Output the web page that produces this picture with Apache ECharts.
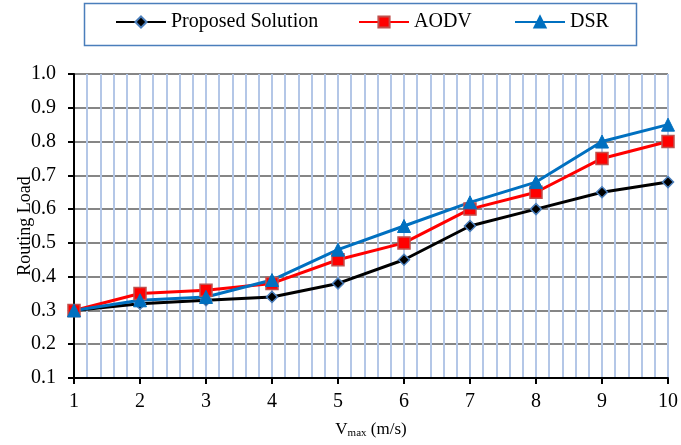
<!DOCTYPE html>
<html>
<head>
<meta charset="utf-8">
<script src="https://cdn.jsdelivr.net/npm/echarts@6/dist/echarts.min.js"></script>
<style>html,body{margin:0;padding:0;background:#fff}#c{width:681px;height:445px}</style>
</head>
<body>
<div id="c"></div>
<script>
const xValues = [1, 2, 3, 4, 5, 6, 7, 8, 9, 10];
const proposed = [0.30, 0.32, 0.33, 0.34, 0.38, 0.45, 0.55, 0.60, 0.65, 0.68];
const aodv = [0.30, 0.35, 0.36, 0.38, 0.45, 0.50, 0.60, 0.65, 0.75, 0.80];
const dsr = [0.30, 0.33, 0.34, 0.39, 0.48, 0.55, 0.62, 0.68, 0.80, 0.85];
const seriesNames = ['Proposed Solution', 'AODV', 'DSR'];

const font = 'Liberation Serif';
const pairs = arr => xValues.map((x, i) => [x, arr[i]]);
const chart = echarts.init(document.getElementById('c'), null, {renderer: 'canvas'});

function legendAt(name, left) {
  return {
    data: [name], left: left, top: 12, itemWidth: 50, itemHeight: 14, itemGap: 0, padding: 0,
    textStyle: {fontFamily: font, fontSize: 20, color: '#000'}
  };
}

chart.setOption({
  animation: false,
  backgroundColor: '#fff',
  graphic: [{
    type: 'rect', shape: {x: 84.5, y: 3.5, width: 552, height: 42},
    style: {fill: 'none', stroke: '#4a7ebb', lineWidth: 1.5}, z: 0
  }],
  legend: [legendAt(seriesNames[0], 115), legendAt(seriesNames[1], 358), legendAt(seriesNames[2], 514)],
  grid: {left: 74, right: 13, top: 74, bottom: 67},
  xAxis: {
    type: 'value', min: 1, max: 10, interval: 1,
    name: 'V{sub|max} (m/s)', nameLocation: 'middle', nameGap: 42, nameMoveOverlap: false,
    nameTextStyle: {
      fontFamily: font, fontSize: 17, color: '#000',
      rich: {sub: {fontFamily: font, fontSize: 11, color: '#000', verticalAlign: 'bottom', padding: [8, 0, 0, 0]}}
    },
    axisLine: {lineStyle: {color: '#000', width: 2}},
    axisTick: {show: true, length: 6, lineStyle: {color: '#000', width: 2}},
    axisLabel: {fontFamily: font, fontSize: 20, color: '#000', margin: 14},
    splitLine: {show: true, lineStyle: {color: '#b4c7e7', width: 2}},
    minorTick: {show: false, splitNumber: 5},
    minorSplitLine: {show: true, lineStyle: {color: '#b4c7e7', width: 2}}
  },
  yAxis: {
    type: 'value', min: 0.1, max: 1.0, interval: 0.1,
    name: 'Routing Load', nameLocation: 'middle', nameGap: 40, nameRotate: 90, nameMoveOverlap: false,
    nameTextStyle: {fontFamily: font, fontSize: 18, color: '#000'},
    axisLine: {show: true, lineStyle: {color: '#000', width: 2}},
    axisTick: {show: true, length: 6, lineStyle: {color: '#000', width: 2}},
    axisLabel: {fontFamily: font, fontSize: 20, color: '#000', margin: 18, formatter: v => v.toFixed(1)},
    splitLine: {show: true, lineStyle: {color: '#868686', width: 2}}
  },
  series: [
    {
      name: seriesNames[0], type: 'line', data: pairs(proposed),
      symbol: 'diamond', symbolSize: 11,
      lineStyle: {color: '#000', width: 3},
      itemStyle: {color: '#000', borderColor: '#4a7ebb', borderWidth: 1.5}
    },
    {
      name: seriesNames[1], type: 'line', data: pairs(aodv),
      symbol: 'rect', symbolSize: 12,
      lineStyle: {color: '#ff0000', width: 3},
      itemStyle: {color: '#ff0000', borderColor: '#c0504d', borderWidth: 1.5}
    },
    {
      name: seriesNames[2], type: 'line', data: pairs(dsr),
      symbol: 'triangle', symbolSize: 13,
      lineStyle: {color: '#0070c0', width: 3},
      itemStyle: {color: '#0070c0', borderColor: '#0070c0', borderWidth: 1}
    }
  ]
});
</script>
</body>
</html>
